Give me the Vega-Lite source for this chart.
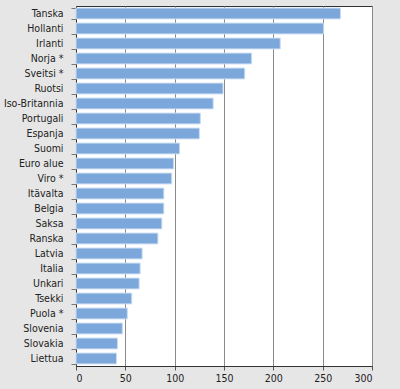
{
  "$schema": "https://vega.github.io/schema/vega-lite/v6.json",
  "autosize": {"type": "none"},
  "width": 296,
  "height": 360,
  "padding": {"left": 76, "top": 6, "right": 28, "bottom": 23},
  "background": "#e6e6e6",
  "config": {
    "view": {"fill": "white", "stroke": "#333333", "strokeWidth": 1},
    "font": "DejaVu Sans Condensed, Roboto, sans-serif"
  },
  "data": {
    "values": [
      {"maa": "Tanska", "arvo": 268},
      {"maa": "Hollanti", "arvo": 251},
      {"maa": "Irlanti", "arvo": 207},
      {"maa": "Norja *", "arvo": 178},
      {"maa": "Sveitsi *", "arvo": 171},
      {"maa": "Ruotsi", "arvo": 149},
      {"maa": "Iso-Britannia", "arvo": 139},
      {"maa": "Portugali", "arvo": 126},
      {"maa": "Espanja", "arvo": 125},
      {"maa": "Suomi", "arvo": 105},
      {"maa": "Euro alue", "arvo": 99},
      {"maa": "Viro *", "arvo": 97},
      {"maa": "Itävalta", "arvo": 89},
      {"maa": "Belgia", "arvo": 89},
      {"maa": "Saksa", "arvo": 87},
      {"maa": "Ranska", "arvo": 83},
      {"maa": "Latvia", "arvo": 67},
      {"maa": "Italia", "arvo": 65},
      {"maa": "Unkari", "arvo": 64},
      {"maa": "Tsekki", "arvo": 56.5},
      {"maa": "Puola *", "arvo": 52},
      {"maa": "Slovenia", "arvo": 47},
      {"maa": "Slovakia", "arvo": 42},
      {"maa": "Liettua", "arvo": 41}
    ]
  },
  "mark": {"type": "bar", "color": "#7ba7da", "stroke": "#c9dcf2", "strokeWidth": 1},
  "encoding": {
    "y": {
      "field": "maa",
      "type": "nominal",
      "sort": null,
      "title": null,
      "scale": {"paddingInner": 0.28, "paddingOuter": 0.14},
      "axis": {
        "tickBand": "extent",
        "tickSize": 5,
        "tickColor": "#777777",
        "domainColor": "#333333",
        "labelFontSize": 10.5,
        "labelColor": "#222222",
        "labelPadding": 8,
        "grid": false
      }
    },
    "x": {
      "field": "arvo",
      "type": "quantitative",
      "title": null,
      "scale": {"domain": [0, 300], "nice": false},
      "axis": {
        "values": [0, 50, 100, 150, 200, 250, 300],
        "tickSize": 4,
        "tickColor": "#555555",
        "domainColor": "#333333",
        "labelFontSize": 10.5,
        "labelColor": "#222222",
        "labelPadding": 3,
        "grid": true,
        "gridColor": "#8a8a8a",
        "gridOpacity": 1
      }
    }
  }
}
